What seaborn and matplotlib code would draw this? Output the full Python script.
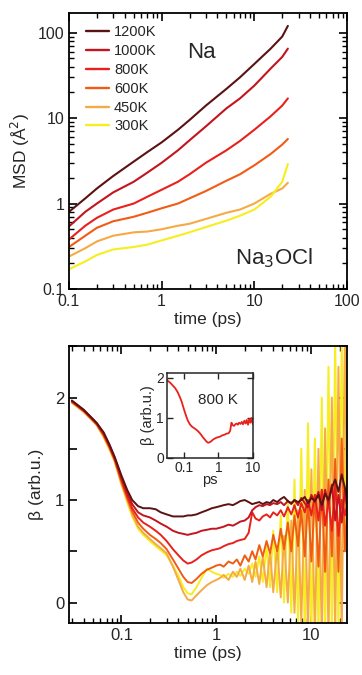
import numpy as np
import pandas as pd
import matplotlib
matplotlib.use("Agg")
import matplotlib.pyplot as plt
import seaborn as sns
from matplotlib.ticker import LogLocator, NullFormatter, MultipleLocator, FixedLocator, FixedFormatter

sns.set_style("ticks")
plt.rcParams['font.family'] = ['Liberation Sans', 'DejaVu Sans']

temps = ["1200K", "1000K", "800K", "600K", "450K", "300K"]
colors = ["#5c1212", "#c3141f", "#e8211c", "#f05c14", "#f5aa45", "#f6ee1e"]

# ---- MSD data (top panel) ----
t_msd = [0.1, 0.15, 0.2, 0.3, 0.5, 0.7, 1, 1.5, 2, 3, 5, 7, 10, 15, 20, 23]
msd_1200 = [0.8, 1.15, 1.5, 2.1, 3.1, 4.0, 5.2, 7.3, 9.5, 14, 22, 30, 43, 65, 90, 120]
msd_1000 = [0.54, 0.8, 1.0, 1.35, 1.8, 2.3, 3.0, 4.2, 5.5, 8, 13, 17, 24, 38, 52, 65]
msd_800 = [0.38, 0.55, 0.68, 0.85, 1.0, 1.2, 1.45, 1.8, 2.2, 3.0, 4.2, 5.4, 7.3, 10.5, 14, 17]
msd_600 = [0.31, 0.42, 0.52, 0.62, 0.7, 0.78, 0.88, 1.0, 1.15, 1.4, 1.85, 2.2, 2.8, 3.8, 4.9, 5.7]
msd_450 = [0.24, 0.3, 0.36, 0.42, 0.46, 0.47, 0.5, 0.55, 0.58, 0.66, 0.78, 0.85, 1.0, 1.3, 1.5, 1.75]
msd_300 = [0.17, 0.21, 0.25, 0.29, 0.31, 0.33, 0.37, 0.42, 0.46, 0.53, 0.63, 0.72, 0.85, 1.2, 1.8, 2.9]

# ---- beta data (bottom panel) ----
t_beta = [0.03, 0.04, 0.05, 0.055, 0.065, 0.075, 0.085, 0.1, 0.115, 0.13, 0.15, 0.17, 0.2, 0.23,
          0.26, 0.3, 0.35, 0.4, 0.45, 0.5, 0.55, 0.62, 0.7, 0.8, 0.9, 1.0,
          1.1, 1.2, 1.35, 1.5, 1.65, 1.8, 2.0, 2.2, 2.4, 2.6, 2.85, 3.1, 3.4, 3.7, 4.0, 4.4,
          4.8, 5.2, 5.7, 6.2, 6.7, 7.3, 7.9, 8.6, 9.3, 10.1, 11.0, 12.0, 13.0, 14.1, 15.3,
          16.6, 18.0, 19.5, 21.1, 22.8, 24.0]
beta_1200 = [1.97, 1.88, 1.79, 1.75, 1.66, 1.54, 1.42, 1.24, 1.10, 1.0, 0.94, 0.92, 0.92, 0.91,
             0.88, 0.86, 0.84, 0.84, 0.84, 0.85, 0.85, 0.86, 0.88, 0.90, 0.92, 0.93,
             0.94, 0.95, 0.96, 0.95, 0.97, 0.99, 1.0, 0.98, 0.96, 0.97, 0.98, 0.96, 0.98, 0.97,
             1.0, 0.98, 1.01, 1.03, 0.99, 0.97, 1.0, 0.98, 1.0, 1.03, 0.97, 1.02, 0.99, 1.05,
             0.95, 1.06, 1.0, 1.12, 1.2, 1.08, 1.25, 1.12, 1.02]
beta_1000 = [1.97, 1.88, 1.79, 1.75, 1.65, 1.53, 1.41, 1.22, 1.07, 0.96, 0.88, 0.85, 0.83, 0.80,
             0.77, 0.74, 0.70, 0.68, 0.67, 0.66, 0.67, 0.68, 0.70, 0.71, 0.72, 0.72,
             0.73, 0.74, 0.76, 0.75, 0.77, 0.79, 0.80, 0.83, 0.90, 0.93, 0.95, 0.94, 0.96, 0.95,
             0.97, 0.96, 0.98, 0.95, 0.99, 0.96, 1.0, 0.95, 1.02, 0.97, 0.93, 1.05, 0.98, 1.08,
             0.9, 1.1, 0.96, 1.15, 0.8, 1.05, 0.78, 1.1, 0.9]
beta_800 = [1.96, 1.87, 1.78, 1.74, 1.64, 1.52, 1.40, 1.20, 1.04, 0.92, 0.83, 0.78, 0.74, 0.70,
            0.66, 0.60, 0.52, 0.46, 0.41, 0.38, 0.39, 0.42, 0.46, 0.49, 0.51, 0.52,
            0.53, 0.55, 0.57, 0.58, 0.60, 0.61, 0.62, 0.68, 0.88, 0.82, 0.80, 0.84, 0.86, 0.83,
            0.88, 0.85, 0.9, 0.84, 0.93, 0.86, 0.95, 0.83, 0.97, 0.88, 1.0, 0.85, 1.05, 0.8,
            1.1, 0.75, 1.0, 0.7, 1.15, 0.65, 1.0, 0.85, 0.95]
beta_600 = [1.96, 1.87, 1.78, 1.74, 1.63, 1.51, 1.39, 1.18, 1.02, 0.89, 0.78, 0.72, 0.66, 0.62,
            0.58, 0.52, 0.42, 0.33, 0.25, 0.20, 0.19, 0.23, 0.28, 0.32, 0.34, 0.36,
            0.37, 0.35, 0.40, 0.38, 0.42, 0.36, 0.46, 0.40, 0.50, 0.42, 0.56, 0.45, 0.6, 0.48,
            0.66, 0.5, 0.72, 0.52, 0.78, 0.5, 0.85, 0.55, 0.9, 0.45, 1.0, 0.4, 1.05, 0.35,
            1.1, 0.3, 1.2, 0.45, 1.4, 0.3, 1.6, 0.5, 0.9]
beta_450 = [1.95, 1.86, 1.77, 1.73, 1.62, 1.50, 1.38, 1.16, 1.00, 0.86, 0.74, 0.68, 0.62, 0.57,
            0.53, 0.48, 0.35, 0.22, 0.10, 0.03, 0.02, 0.07, 0.12, 0.17, 0.20, 0.22,
            0.24, 0.27, 0.22, 0.30, 0.25, 0.33, 0.22, 0.36, 0.2, 0.4, 0.18, 0.45, 0.15, 0.5,
            0.1, 0.55, 0.05, 0.65, 0.0, 0.8, -0.1, 0.9, -0.2, 1.1, -0.3, 1.3, -0.35, 1.5,
            -0.35, 1.7, -0.35, 2.0, -0.35, 2.3, -0.35, 2.6, 1.0]
beta_300 = [1.95, 1.86, 1.77, 1.73, 1.61, 1.49, 1.37, 1.15, 0.98, 0.84, 0.72, 0.66, 0.60, 0.55,
            0.51, 0.46, 0.36, 0.26, 0.15, 0.09, 0.08, 0.15, 0.24, 0.33, 0.30, 0.28,
            0.27, 0.24, 0.28, 0.25, 0.30, 0.26, 0.33, 0.28, 0.38, 0.25, 0.45, 0.2, 0.55, 0.15,
            0.7, 0.1, 0.85, 0.0, 1.0, -0.1, 1.2, -0.2, 1.5, -0.3, 1.75, -0.35, 1.6, -0.35,
            2.0, -0.35, 2.3, -0.35, 2.6, -0.35, 2.6, 0.5, 2.6]

msd_all = [msd_1200, msd_1000, msd_800, msd_600, msd_450, msd_300]
beta_all = [beta_1200, beta_1000, beta_800, beta_600, beta_450, beta_300]

df_msd = pd.concat([pd.DataFrame({"t": t_msd, "v": v, "T": T}) for v, T in zip(msd_all, temps)])
df_beta = pd.concat([pd.DataFrame({"t": t_beta, "v": v, "T": T}) for v, T in zip(beta_all, temps)])
df_inset = pd.DataFrame({"t": t_beta, "v": beta_800})
df_inset = df_inset[df_inset["t"] <= 10.1]

palette = dict(zip(temps, colors))

fig = plt.figure(figsize=(3.62, 6.75), dpi=100)
ax1 = fig.add_axes([0.1906, 0.5719, 0.768, 0.4089])
ax2 = fig.add_axes([0.1906, 0.077, 0.768, 0.410])
axi = fig.add_axes([0.4605, 0.3215, 0.2376, 0.1259])

def style_axis(ax, fs=11.5):
    for s in ax.spines.values():
        s.set_linewidth(1.3)
        s.set_color("black")
    ax.tick_params(which="both", direction="in", top=True, right=True, labelsize=fs, color="black")
    ax.tick_params(which="major", length=6, width=1.2)
    ax.tick_params(which="minor", length=3.5, width=1.0)

# Top panel
sns.lineplot(data=df_msd, x="t", y="v", hue="T", palette=palette, hue_order=temps,
             estimator=None, sort=False, lw=1.5, ax=ax1, legend=False)
ax1.set_xscale("log")
ax1.set_yscale("log")
ax1.set_xlim(0.1, 100)
ax1.set_ylim(0.1, 170)
ax1.xaxis.set_major_locator(FixedLocator([0.1, 1, 10, 100]))
ax1.xaxis.set_major_formatter(FixedFormatter(["0.1", "1", "10", "100"]))
ax1.yaxis.set_major_locator(FixedLocator([0.1, 1, 10, 100]))
ax1.yaxis.set_major_formatter(FixedFormatter(["0.1", "1", "10", "100"]))
ax1.xaxis.set_minor_locator(LogLocator(base=10, subs=np.arange(2, 10)))
ax1.yaxis.set_minor_locator(LogLocator(base=10, subs=np.arange(2, 10)))
ax1.xaxis.set_minor_formatter(NullFormatter())
ax1.yaxis.set_minor_formatter(NullFormatter())
style_axis(ax1)
ax1.set_xlabel("time (ps)", fontsize=12.5, labelpad=2)
ax1.set_ylabel("MSD (Å$^2$)", fontsize=12.5, labelpad=4)
handles = [plt.Line2D([], [], color=c, lw=1.7) for c in colors]
ax1.legend(handles, temps, loc="upper left", frameon=False, fontsize=10.5,
           handlelength=1.6, handletextpad=0.35, labelspacing=0.33,
           borderaxespad=0.0, borderpad=0.0, bbox_to_anchor=(0.06, 0.955))
ax1.text(0.478, 0.855, "Na", transform=ax1.transAxes, fontsize=16, ha="center", va="center")
ax1.text(0.737, 0.112, "Na$_3$OCl", transform=ax1.transAxes, fontsize=16, ha="center", va="center")

# Bottom panel
sns.lineplot(data=df_beta, x="t", y="v", hue="T", palette=palette, hue_order=temps[::-1],
             estimator=None, sort=False, lw=1.4, ax=ax2, legend=False)
ax2.set_xscale("log")
ax2.set_xlim(0.028, 24)
ax2.set_ylim(-0.2, 2.5)
ax2.xaxis.set_major_locator(FixedLocator([0.1, 1, 10]))
ax2.xaxis.set_major_formatter(FixedFormatter(["0.1", "1", "10"]))
ax2.xaxis.set_minor_locator(LogLocator(base=10, subs=np.arange(2, 10)))
ax2.xaxis.set_minor_formatter(NullFormatter())
ax2.yaxis.set_major_locator(FixedLocator([0, 1, 2]))
ax2.yaxis.set_major_formatter(FixedFormatter(["0", "1", "2"]))
ax2.yaxis.set_minor_locator(MultipleLocator(0.5))
style_axis(ax2, fs=12)
ax2.tick_params(axis="y", which="minor", length=6, width=1.2)
ax2.set_xlabel("time (ps)", fontsize=12.5, labelpad=2)
ax2.set_ylabel("β (arb.u.)", fontsize=12.5, labelpad=8)

# Inset
sns.lineplot(data=df_inset, x="t", y="v", color=colors[2], estimator=None, sort=False,
             lw=1.3, ax=axi, legend=False)
axi.set_xscale("log")
axi.set_xlim(0.031, 10)
axi.set_ylim(0, 2.12)
axi.xaxis.set_major_locator(FixedLocator([0.1, 1, 10]))
axi.xaxis.set_major_formatter(FixedFormatter(["0.1", "1", "10"]))
axi.xaxis.set_minor_locator(FixedLocator([]))
axi.yaxis.set_major_locator(FixedLocator([0, 1, 2]))
axi.yaxis.set_major_formatter(FixedFormatter(["0", "1", "2"]))
for s in axi.spines.values():
    s.set_linewidth(1.1)
axi.tick_params(which="both", direction="in", top=True, right=True, labelsize=10,
                length=4, width=1.0, pad=2)
axi.set_xlabel("ps", fontsize=10.5, labelpad=-1)
axi.set_ylabel("β (arb.u.)", fontsize=10.5, labelpad=1)
axi.text(0.6, 0.68, "800 K", transform=axi.transAxes, fontsize=11, ha="center", va="center")

fig.savefig("out.png", dpi=100)
